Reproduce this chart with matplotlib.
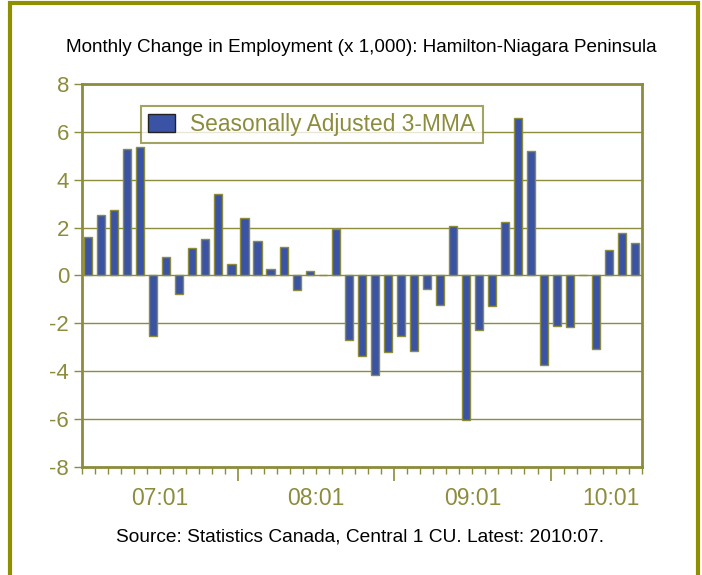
import matplotlib.pyplot as plt
from matplotlib.patches import Rectangle

# monthly change in employment (x1,000), 3-month moving average, 2007:01 - 2010:07
months = [f"{y:02d}:{m:02d}" for y in range(7, 11) for m in range(1, 13)][:43]
change = [1.62, 2.51, 2.75, 5.30, 5.38, -2.54, 0.75, -0.77, 1.13, 1.53,
          3.42, 0.47, 2.38, 1.42, 0.28, 1.20, -0.63, 0.20, 0.02, 1.95,
          -2.69, -3.36, -4.16, -3.19, -2.52, -3.15, -0.56, -1.26, 2.08, -6.04,
          -2.27, -1.27, 2.25, 6.58, 5.20, -3.74, -2.12, -2.15, 0.02, -3.07,
          1.07, 1.76, 1.34]
year_labels = ["07:01", "08:01", "09:01", "10:01"]

olive = '#8c8c3c'
frame = '#8f8f00'
bar_blue = '#3a53a4'

plt.rcParams['font.family'] = ['Liberation Sans', 'DejaVu Sans']
plt.rcParams['axes.unicode_minus'] = False
fig = plt.figure(figsize=(7.02, 5.75), dpi=100)

# outer frame
fig.patches.append(Rectangle((10 / 702, -0.05), 688 / 702, 0.05 + 572 / 575,
                             transform=fig.transFigure, fill=False,
                             edgecolor=frame, linewidth=3))

ax = fig.add_axes([81.7 / 702, 108.3 / 575, 560 / 702, 382.7 / 575])
x = list(range(len(change)))
ax.bar(x, change, width=0.62, color=bar_blue, edgecolor=olive, linewidth=1,
       label='Seasonally Adjusted 3-MMA', zorder=3)

ax.set_ylim(-8, 8)
ax.set_xlim(-0.5, len(change) - 0.5)
ax.set_yticks(range(-8, 9, 2))
ax.yaxis.grid(True, color=olive, linewidth=1, zorder=0)
ax.tick_params(axis='y', colors=olive, labelsize=16, length=6, width=1, pad=3)

# month ticks at category boundaries, year ticks longer
bounds = [i - 0.5 for i in range(len(change) + 1)]
ax.set_xticks(bounds, minor=True)
ax.set_xticks([11.5, 23.5, 35.5])
ax.set_xticklabels([])
ax.tick_params(axis='x', which='minor', colors=olive, length=5, width=1)
ax.tick_params(axis='x', which='major', colors=olive, length=10, width=1.2)
for pos, lab in zip([5.5, 17.5, 29.5, 40.1], year_labels):
    ax.text(pos, -9.35, lab, ha='center', va='center', color=olive, fontsize=16.5)

for s in ax.spines.values():
    s.set_color(olive)
    s.set_linewidth(2)

leg = ax.legend(loc='upper left', bbox_to_anchor=(0.106, 0.943), fontsize=16.4,
                frameon=True, fancybox=False, handlelength=1.15, handleheight=0.8,
                borderpad=0.32, handletextpad=0.7, borderaxespad=0)
leg.get_frame().set_edgecolor(olive)
leg.get_frame().set_linewidth(1.5)
for t in leg.get_texts():
    t.set_color(olive)
leg.legend_handles[0].set_edgecolor('#222222')

fig.text(361 / 702, 1 - 48 / 575,
         'Monthly Change in Employment (x 1,000): Hamilton-Niagara Peninsula',
         ha='center', va='center', fontsize=13.6, color='black')
fig.text(360 / 702, 1 - 537 / 575,
         'Source: Statistics Canada, Central 1 CU. Latest: 2010:07.',
         ha='center', va='center', fontsize=13.8, color='black')

fig.savefig('out.png', dpi=100)
